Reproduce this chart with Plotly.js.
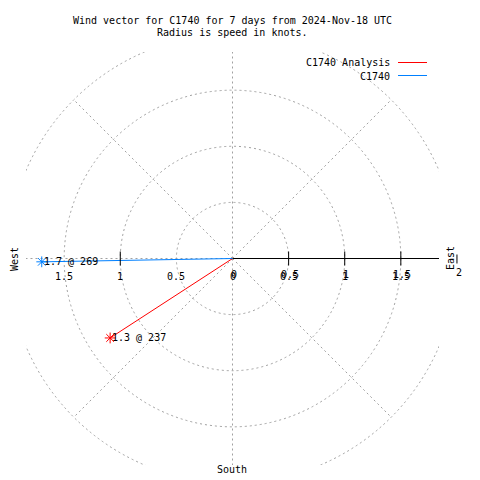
<!DOCTYPE html>
<html>
<head>
<meta charset="utf-8">
<script src="https://cdn.plot.ly/plotly-3.0.1.min.js"></script>
<style>body{margin:0;background:#fff}</style>
</head>
<body>
<div id="chart" style="width:480px;height:480px"></div>
<script>
// ---- data ----
const seriesNames = ['C1740 Analysis', 'C1740'];
const speeds = [1.3, 1.7];          // knots
const directions = [237, 269];      // degrees, clockwise from north
const ringRadii = [0.5, 1, 1.5, 2];
const spokeAngles = [0, 45, 90, 135, 180, 225, 270, 315];
const leftTickVals = [-1.5, -1, -0.5, 0];
const leftTickText = ['1.5', '1', '0.5', '0'];
const rightTickVals = [0, 0.5, 1, 1.5];
const rightTickText = ['0', '0.5', '1', '1.5'];
const majorTickVals = [-1, 0.5, 1, 1.5];
const outerTickVal = 2;
const outerTickText = '2';
const titleLines = ['Wind vector for C1740 for 7 days from 2024-Nov-18 UTC', 'Radius is speed in knots.'];

// ---- style ----
const colors = ['#ff0000', '#0080ff'];
const gridColor = '#a0a0a0';
const FONT = 'DejaVu Sans Mono';
const L = 26, R = 439, T = 52, B = 465;
const RMAX = 1.84;
const px = x => (x - L) / (R - L);
const py = y => (B - y) / (B - T);
const dx = v => (v + RMAX) / (2 * RMAX);   // data x -> paper x
const dy = v => (v + RMAX) / (2 * RMAX);
const rad = d => d * Math.PI / 180;

const traces = [];
const annotations = [];
speeds.forEach((s, i) => {
  const x = s * Math.sin(rad(directions[i]));
  const y = s * Math.cos(rad(directions[i]));
  traces.push({x: [0, x], y: [0, y], mode: 'lines', line: {color: colors[i], width: 1}, hoverinfo: 'skip', showlegend: false});
  traces.push({x: [x], y: [y], mode: 'markers', marker: {symbol: 'asterisk-open', size: 9, color: colors[i], line: {color: colors[i], width: 1}}, hoverinfo: 'skip', showlegend: false, cliponaxis: false});
  annotations.push({x: x, y: y, xref: 'x', yref: 'y', text: s.toFixed(1) + ' @ ' + directions[i], xanchor: 'left', yanchor: 'middle', showarrow: false, font: {family: FONT, size: 10, color: '#000'}});
});
traces.push({x: majorTickVals, y: majorTickVals.map(() => 0), mode: 'markers', marker: {symbol: 'line-ns-open', size: 10, color: '#000', line: {color: '#000', width: 1}}, hoverinfo: 'skip', showlegend: false, cliponaxis: false});

const shapes = [];
ringRadii.forEach(r => shapes.push({type: 'circle', xref: 'x', yref: 'y', x0: -r, y0: -r, x1: r, y1: r, line: {color: gridColor, width: 1, dash: '2px,3px'}, layer: 'below'}));
spokeAngles.forEach(a => shapes.push({type: 'line', xref: 'x', yref: 'y', x0: 0, y0: 0, x1: 2 * Math.sin(rad(a)), y1: 2 * Math.cos(rad(a)), line: {color: gridColor, width: 1, dash: '2px,3px'}, layer: 'below'}));
shapes.push({type: 'line', xref: 'x', yref: 'y', x0: 0, y0: 0, x1: RMAX, y1: 0, line: {color: '#000', width: 1}, layer: 'below'});
// outer tick (outside plot area)
shapes.push({type: 'line', xref: 'paper', yref: 'paper', x0: dx(outerTickVal), x1: dx(outerTickVal), y0: dy(0) - 5 / (B - T), y1: dy(0) + 4 / (B - T), line: {color: '#000', width: 1}});

// legend
seriesNames.forEach((n, i) => {
  const yy = 63 + i * 13;
  annotations.push({x: px(392), y: py(yy), xref: 'paper', yref: 'paper', text: n, xanchor: 'right', yanchor: 'middle', showarrow: false, font: {family: FONT, size: 10, color: '#000'}});
  shapes.push({type: 'line', xref: 'paper', yref: 'paper', x0: px(398), x1: px(427), y0: py(yy - 0.5), y1: py(yy - 0.5), line: {color: colors[i], width: 1}});
});

// titles
titleLines.forEach((t, i) => annotations.push({x: px(232), y: py(20 + i * 13), xref: 'paper', yref: 'paper', text: t, xanchor: 'center', yanchor: 'middle', showarrow: false, font: {family: FONT, size: 10, color: '#000'}}));

// tick labels
const tf = {family: FONT, size: 10, color: '#000'};
const labY = (258 - 276) / 112;
leftTickVals.forEach((v, i) => annotations.push({x: v, y: labY, xref: 'x', yref: 'y', text: leftTickText[i], showarrow: false, xanchor: 'center', yanchor: 'middle', font: tf}));
rightTickVals.forEach((v, i) => annotations.push({x: v, y: labY, xref: 'x', yref: 'y', text: rightTickText[i], showarrow: false, xanchor: 'center', yanchor: 'middle', xshift: 1, yshift: 2, font: tf}));
rightTickVals.slice(1).forEach((v, i) => annotations.push({x: v, y: labY, xref: 'x', yref: 'y', text: rightTickText[i + 1], showarrow: false, xanchor: 'center', yanchor: 'middle', font: tf}));
annotations.push({x: dx(outerTickVal), y: py(272), xref: 'paper', yref: 'paper', text: outerTickText, showarrow: false, xanchor: 'center', yanchor: 'middle', xshift: 2, font: tf});

// compass labels
annotations.push({x: px(14), y: py(259), xref: 'paper', yref: 'paper', text: 'West', textangle: -90, xanchor: 'center', yanchor: 'middle', showarrow: false, font: tf});
annotations.push({x: px(450), y: py(258), xref: 'paper', yref: 'paper', text: 'East', textangle: -90, xanchor: 'center', yanchor: 'middle', showarrow: false, font: tf});
annotations.push({x: px(232), y: py(470), xref: 'paper', yref: 'paper', text: 'South', xanchor: 'center', yanchor: 'middle', showarrow: false, font: tf});

const axisCommon = {range: [-RMAX, RMAX], showgrid: false, zeroline: false, showticklabels: false, ticks: '', showline: false, fixedrange: true};
const layout = {
  width: 480, height: 480,
  margin: {l: L, r: 480 - R, t: T, b: 480 - B, pad: 0},
  paper_bgcolor: '#fff', plot_bgcolor: '#fff',
  xaxis: Object.assign({}, axisCommon),
  yaxis: Object.assign({}, axisCommon),
  showlegend: false,
  shapes: shapes,
  annotations: annotations
};
Plotly.newPlot('chart', traces, layout, {displayModeBar: false, staticPlot: true});
</script>
</body>
</html>
